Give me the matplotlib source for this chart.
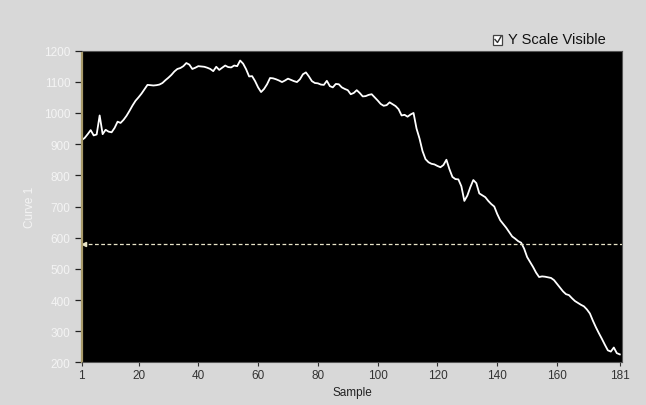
import numpy as np
import matplotlib.pyplot as plt
from matplotlib.patches import Rectangle
from matplotlib.lines import Line2D

plt.rcParams['font.family'] = ['Liberation Sans', 'DejaVu Sans']

# curve samples 1..181
samples = list(range(1, 182))
curve = [
    913, 920, 932, 945, 928, 931, 992, 932, 946, 940,
    938, 952, 972, 968, 978, 991, 1007, 1024, 1039, 1050,
    1062, 1076, 1090, 1089, 1088, 1089, 1091, 1096, 1105, 1113,
    1122, 1133, 1141, 1144, 1150, 1160, 1155, 1141, 1145, 1150,
    1149, 1148, 1145, 1141, 1134, 1148, 1138, 1145, 1152, 1147,
    1146, 1152, 1150, 1168, 1158, 1140, 1117, 1118, 1102, 1082,
    1067, 1077, 1092, 1112, 1111, 1108, 1104, 1099, 1104, 1110,
    1106, 1102, 1099, 1108, 1124, 1130, 1117, 1102, 1096, 1095,
    1091, 1090, 1103, 1086, 1082, 1093, 1092, 1082, 1077, 1073,
    1060, 1064, 1073, 1064, 1053, 1054, 1058, 1060, 1050, 1040,
    1029, 1023, 1025, 1034, 1028, 1022, 1012, 992, 994, 988,
    995, 1000, 950, 918, 878, 852, 842, 837, 835, 830,
    826, 833, 850, 820, 795, 788, 787, 765, 718, 735,
    762, 785, 775, 742, 736, 730, 718, 708, 700, 676,
    656, 644, 632, 618, 604, 597, 589, 584, 565, 538,
    522, 506, 488, 474, 476, 475, 473, 471, 464, 452,
    440, 428, 419, 416, 406, 397, 391, 385, 380, 370,
    357, 334, 313, 294, 276, 257, 239, 235, 248, 230,
    226,
]
cursor_level = 580
x_ticks = [1, 20, 40, 60, 80, 100, 120, 140, 160, 181]
y_ticks = list(range(200, 1201, 100))

bg = '#d8d8d8'
fig = plt.figure(figsize=(6.46, 4.06), dpi=100, facecolor=bg)
ax = fig.add_axes([0.1265, 0.1047, 0.8371, 0.7683])
ax.set_facecolor('black')

ax.plot(samples, curve, color='white', lw=1.3)
ax.axhline(cursor_level, color='#e8e4c8', lw=0.9, ls=(0, (3, 2)))
ax.plot([1.6], [cursor_level], marker='<', color='#e8e4c8', ms=3, clip_on=False)

ax.set_xlim(1, 181.9)
ax.set_ylim(200, 1200)
ax.set_xticks(x_ticks)
ax.set_yticks(y_ticks)
ax.tick_params(axis='x', colors='#333333', labelsize=8.5, length=3, width=0.8, pad=2)
ax.tick_params(axis='y', colors='#222222', labelcolor='#f4f4f4', labelsize=8.5, length=5,
               width=0.9, pad=3)

for side in ['top', 'right', 'bottom']:
    ax.spines[side].set_color('#555555')
    ax.spines[side].set_linewidth(0.8)
ax.spines['left'].set_color('#a89a6a')
ax.spines['left'].set_linewidth(1.6)
ax.spines['left'].set_linestyle((0, (1, 1)))

ax.set_xlabel('Sample', color='#222222', fontsize=8.5, labelpad=3)
ax.set_ylabel('Curve 1', color='#f4f4f4', fontsize=8.5, labelpad=6)

# check box above the plot
w, h = 646, 406
fig.patches.append(Rectangle((493 / w, 1 - 45.5 / h), 9.5 / w, 9.5 / h,
                             transform=fig.transFigure, facecolor='white',
                             edgecolor='#444444', lw=0.9))
fig.lines.append(Line2D([495 / w, 497.5 / w, 501 / w],
                        [1 - 40.5 / h, 1 - 43.5 / h, 1 - 37.5 / h],
                        transform=fig.transFigure, color='#333333', lw=1.0))
fig.text(508 / w, 1 - 40.5 / h, 'Y Scale Visible', fontsize=10.5, color='#111111',
         va='center', ha='left')

fig.savefig('out.png', dpi=100, facecolor=bg)
